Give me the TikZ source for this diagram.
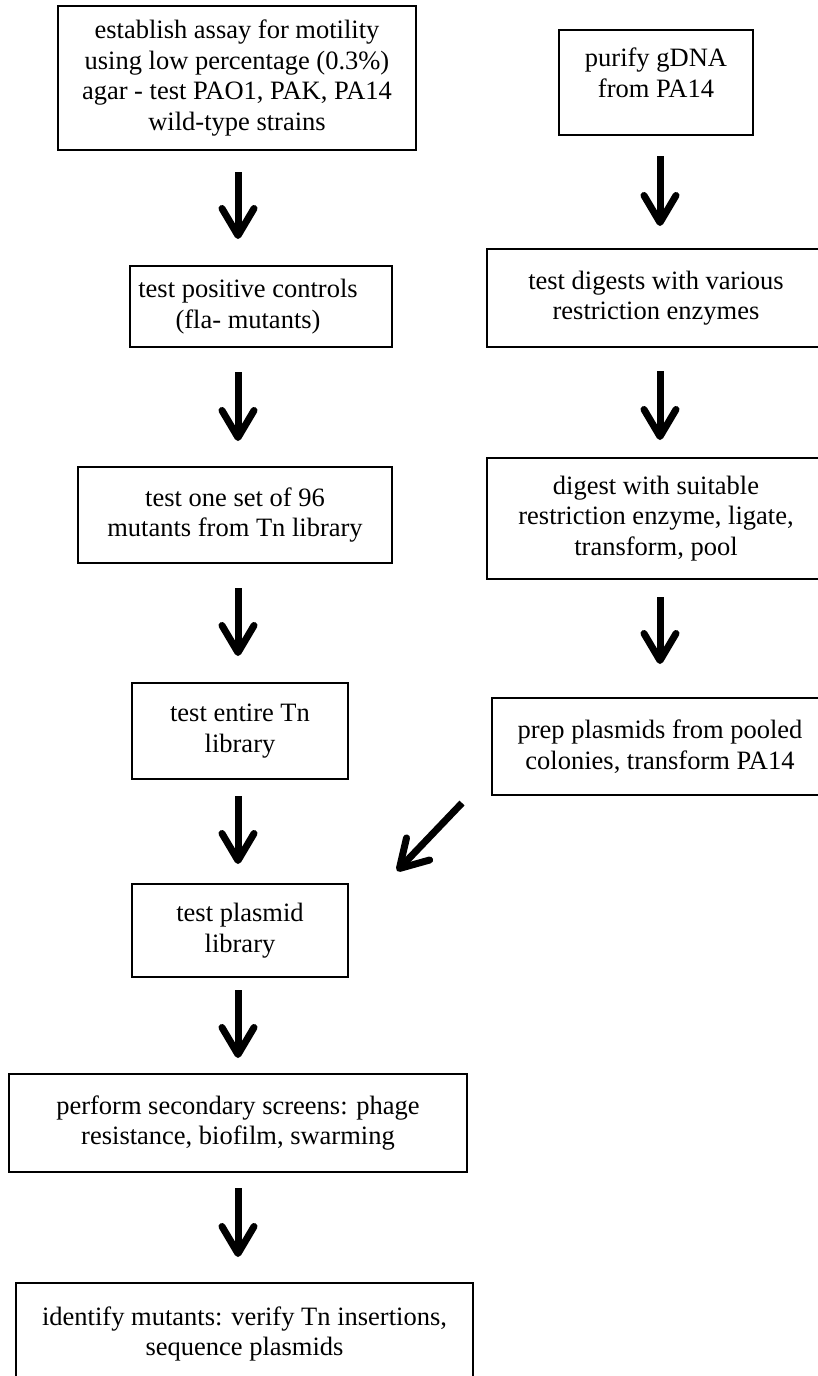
\documentclass[tikz,border=0pt]{standalone}
\usepackage{fontspec}
\setmainfont{Liberation Serif}
\usetikzlibrary{arrows.meta}
\newcommand{\lowpad}[1]{\rule[-#1pt]{0pt}{#1pt}}
\newcommand{\rightpad}[1]{\hspace*{#1pt}}
\begin{document}
\begin{tikzpicture}[x = 1pt, y = -1pt,
		stepbox/.style = {draw, line width = 2pt, inner sep = 0pt, align = center, font = \fontsize{26.5}{30.5}\selectfont},
		flowarrow/.style = {line width = 7pt, -{Straight Barb[length = 27pt, width = 32pt, round]}}]
		\useasboundingbox (0,0) rectangle (817,1376);
		
		\node[stepbox, minimum width = 358pt, minimum height = 144pt] (assay) at (237,78) {establish assay for motility\\using low percentage (0.3\%)\\agar - test PAO1, PAK, PA14\\wild-type strains};
		\node[stepbox, minimum width = 194pt, minimum height = 105pt] (gdna) at (656,82.5) {purify gDNA\\from PA14\lowpad{20}};
		\node[stepbox, minimum width = 262pt, minimum height = 81pt] (posctrl) at (261,306.5) {test positive controls\rightpad{26}\\(fla- mutants)\rightpad{26}};
		\node[stepbox, minimum width = 338pt, minimum height = 98pt] (digests) at (656,298) {test digests with various\\restriction enzymes};
		\node[stepbox, minimum width = 314pt, minimum height = 96pt] (oneset) at (235,515) {test one set of 96\\mutants from Tn library};
		\node[stepbox, minimum width = 338pt, minimum height = 121pt] (ligate) at (656,518.5) {digest with suitable\\restriction enzyme, ligate,\\transform, pool};
		\node[stepbox, minimum width = 216pt, minimum height = 96pt] (entire) at (240,731) {test entire Tn\\library};
		\node[stepbox, minimum width = 336pt, minimum height = 97pt] (prep) at (660,746.5) {prep plasmids from pooled\\colonies, transform PA14};
		\node[stepbox, minimum width = 216pt, minimum height = 93pt] (plaslib) at (240,930.5) {test plasmid\\library};
		\node[stepbox, minimum width = 458pt, minimum height = 98pt] (secondary) at (238,1123) {perform secondary screens: phage\\resistance, biofilm, swarming};
		\node[stepbox, minimum width = 457pt, minimum height = 102pt] (identify) at (244.5,1334) {identify mutants: verify Tn insertions,\\sequence plasmids};
		
		\coordinate (leftcol) at (238,0);
		\coordinate (rightcol) at (660,0);
		
		\foreach \a/\b/\s/\e in {assay/posctrl/21/26, posctrl/oneset/24/25, oneset/entire/24/26, entire/plaslib/16/19, plaslib/secondary/12/15, secondary/identify/15/25}{
			
			\draw[flowarrow, shorten <= \s pt, shorten >= \e pt] (\a.south -| leftcol) -- (\b.north -| leftcol);
		}
		
		\foreach \a/\b/\s/\e in {gdna/digests/20/22, digests/ligate/23/17, ligate/prep/17/33}{
			
			\draw[flowarrow, shorten <= \s pt, shorten >= \e pt] (\a.south -| rightcol) -- (\b.north -| rightcol);
		}
		
		\draw[flowarrow] ([shift = {(-29,7)}]prep.south west) -- ([shift = {(48,-12)}]plaslib.north east);
	\end{tikzpicture}
\end{document}
